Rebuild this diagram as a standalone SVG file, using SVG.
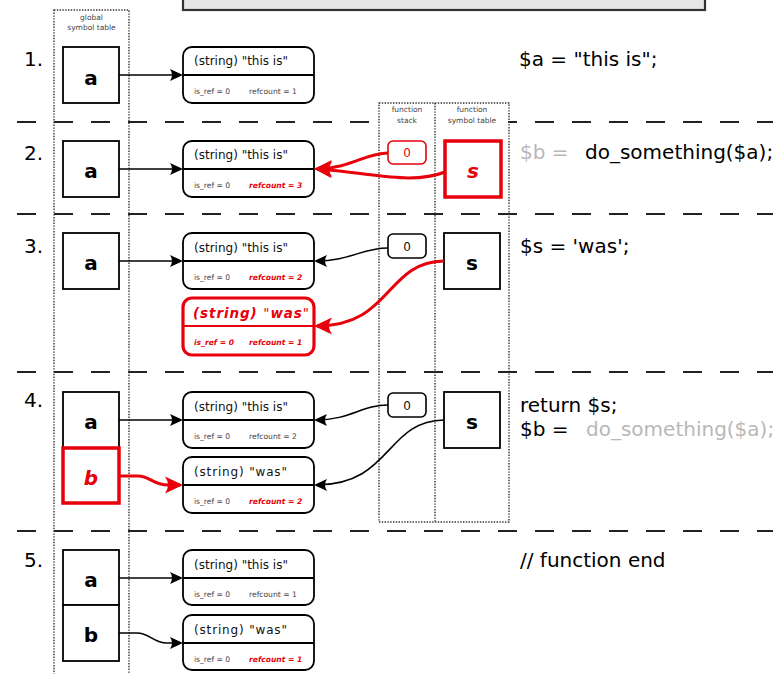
<svg xmlns="http://www.w3.org/2000/svg" width="773" height="674" viewBox="0 0 773 674">
  <style>
    text { font-family: "DejaVu Sans", "Liberation Sans", sans-serif; }
    .sep { stroke: #222; stroke-width: 2.2; stroke-dasharray: 19 18; fill: none; }
    .dot { fill: none; stroke: #333; stroke-width: 1.4; stroke-dasharray: 1.4 1.4; }
    .var { fill: #fff; stroke: #000; stroke-width: 1.8; }
    .varR { fill: #fff; stroke: #e8000b; stroke-width: 3.5; }
    .val { fill: #fff; stroke: #000; stroke-width: 1.8; }
    .valR { fill: #fff; stroke: #e8000b; stroke-width: 3.2; }
    .div { stroke: #000; stroke-width: 1.8; }
    .divR { stroke: #e8000b; stroke-width: 2; }
    .num { fill: #fff; stroke: #000; stroke-width: 1.6; }
    .numR { fill: #fff; stroke: #e8000b; stroke-width: 1.6; }
    .lbl { font-size: 7.5px; fill: #444; text-anchor: middle; }
    .step { font-size: 20px; fill: #000; }
    .name { font-size: 20px; font-weight: bold; fill: #000; text-anchor: middle; }
    .nameR { font-size: 20px; font-weight: bold; font-style: italic; fill: #e8000b; text-anchor: middle; }
    .vt { font-size: 12px; fill: #111; }
    .meta { font-size: 7.6px; fill: #444; }
    .metaR { font-size: 7.6px; fill: #e8000b; font-weight: bold; font-style: italic; }
    .zero { font-size: 12px; fill: #111; text-anchor: middle; }
    .code { font-size: 20px; fill: #000; }
    .dim { fill: #b8b8b8; }
    .ln { fill: none; stroke: #000; stroke-width: 1.5; }
    .lnR { fill: none; stroke: #e8000b; stroke-width: 3; }
  </style>
  <defs>
    <marker id="arr" viewBox="-12 -7 15 14" markerWidth="15" markerHeight="14" refX="0" refY="0" orient="auto" markerUnits="userSpaceOnUse">
      <path d="M2,0 L-11,-6 Q-7,0 -11,6 Z" fill="#000"/>
    </marker>
    <marker id="arrR" viewBox="-17 -10 21 20" markerWidth="21" markerHeight="20" refX="0" refY="0" orient="auto" markerUnits="userSpaceOnUse">
      <path d="M3,0 L-15,-8.5 Q-9,0 -15,8.5 Z" fill="#e8000b"/>
    </marker>
  </defs>

  <rect width="773" height="674" fill="#fff"/>

  <!-- header panel, cut off at the top edge -->
  <rect x="183" y="-12" width="522" height="22" fill="#e6e6e6" stroke="#333" stroke-width="2.2"/>

  <!-- step separators -->
  <g id="separators">
    <line class="sep" x1="17" y1="122" x2="773" y2="122"/>
    <line class="sep" x1="17" y1="214" x2="773" y2="214"/>
    <line class="sep" x1="17" y1="372" x2="773" y2="372"/>
    <line class="sep" x1="17" y1="531" x2="773" y2="531"/>
  </g>

  <!-- symbol table frames -->
  <g id="global-table">
    <rect class="dot" x="54" y="10" width="75" height="690"/>
    <text class="lbl" x="91.5" y="20">global</text>
    <text class="lbl" x="91.5" y="30">symbol table</text>
  </g>
  <g id="function-tables">
    <rect x="380" y="104" width="128" height="22" fill="#fff"/>
    <rect class="dot" x="379" y="103" width="130" height="419"/>
    <line class="dot" x1="435" y1="103" x2="435" y2="522"/>
    <text class="lbl" x="407" y="112">function</text>
    <text class="lbl" x="407" y="123">stack</text>
    <text class="lbl" x="472" y="112">function</text>
    <text class="lbl" x="472" y="123">symbol table</text>
  </g>

  <!-- step numbers and code lines -->
  <g id="steps">
    <text class="step" x="24" y="66">1.</text>
    <text class="step" x="24" y="160">2.</text>
    <text class="step" x="24" y="253">3.</text>
    <text class="step" x="24" y="407">4.</text>
    <text class="step" x="24" y="567">5.</text>
  </g>
  <g id="code">
    <text class="code" x="519" y="66">$a = "this is";</text>
    <text class="code" x="520" y="159"><tspan class="dim">$b =</tspan><tspan x="585">do_something($a);</tspan></text>
    <text class="code" x="520" y="253">$s = 'was';</text>
    <text class="code" x="520" y="412">return $s;</text>
    <text class="code" x="520" y="436">$b =<tspan x="586" class="dim">do_something($a);</tspan></text>
    <text class="code" x="520" y="567">// function end</text>
  </g>

  <!-- step 1 -->
  <g id="s1-a">
    <rect class="var" x="63" y="47" width="56" height="56"/>
    <text class="name" x="91" y="85">a</text>
  </g>
  <g id="s1-this">
    <rect class="val" x="183" y="47" width="131" height="56" rx="9"/>
    <line class="div" x1="183" y1="75" x2="314" y2="75"/>
    <text class="vt" x="194" y="65">(string) "this is"</text>
    <text class="meta" x="194" y="94">is_ref = 0</text>
    <text class="meta" x="249" y="94">refcount = 1</text>
  </g>

  <!-- step 2 -->
  <g id="s2-a">
    <rect class="var" x="63" y="141" width="56" height="56"/>
    <text class="name" x="91" y="178">a</text>
  </g>
  <g id="s2-this">
    <rect class="val" x="183" y="141" width="131" height="56" rx="9"/>
    <line class="div" x1="183" y1="169" x2="314" y2="169"/>
    <text class="vt" x="194" y="159">(string) "this is"</text>
    <text class="meta" x="194" y="188">is_ref = 0</text>
    <text class="metaR" x="249" y="188">refcount = 3</text>
  </g>
  <g id="s2-stack">
    <rect class="numR" x="388" y="141" width="38" height="23" rx="5"/>
    <text class="zero" x="407" y="157" style="fill:#e8000b">0</text>
  </g>
  <g id="s2-s">
    <rect class="varR" x="445" y="141" width="56" height="56"/>
    <text class="nameR" x="473" y="178">s</text>
  </g>

  <!-- step 3 -->
  <g id="s3-a">
    <rect class="var" x="63" y="233" width="56" height="56"/>
    <text class="name" x="91" y="270">a</text>
  </g>
  <g id="s3-this">
    <rect class="val" x="183" y="233" width="131" height="56" rx="9"/>
    <line class="div" x1="183" y1="261" x2="314" y2="261"/>
    <text class="vt" x="194" y="252">(string) "this is"</text>
    <text class="meta" x="194" y="280">is_ref = 0</text>
    <text class="metaR" x="249" y="280">refcount = 2</text>
  </g>
  <g id="s3-was">
    <rect class="valR" x="183" y="298" width="131" height="57" rx="9"/>
    <line class="divR" x1="183" y1="326" x2="314" y2="326"/>
    <text x="193" y="318" font-size="13.5" fill="#e8000b" textLength="116"><tspan font-weight="bold" font-style="italic">(string) </tspan><tspan>"</tspan><tspan font-weight="bold" font-style="italic">was</tspan><tspan>"</tspan></text>
    <text class="metaR" x="194" y="345">is_ref = 0</text>
    <text class="metaR" x="249" y="345">refcount = 1</text>
  </g>
  <g id="s3-stack">
    <rect class="num" x="388" y="234" width="38" height="24" rx="5"/>
    <text class="zero" x="407" y="251">0</text>
  </g>
  <g id="s3-s">
    <rect class="var" x="444" y="233" width="56" height="56"/>
    <text class="name" x="472" y="270">s</text>
  </g>

  <!-- step 4 -->
  <g id="s4-a">
    <rect class="var" x="63" y="392" width="56" height="56"/>
    <text class="name" x="91" y="429">a</text>
  </g>
  <g id="s4-b">
    <rect class="varR" x="63" y="448" width="56" height="55"/>
    <text class="nameR" x="91" y="485">b</text>
  </g>
  <g id="s4-this">
    <rect class="val" x="183" y="392" width="131" height="56" rx="9"/>
    <line class="div" x1="183" y1="420" x2="314" y2="420"/>
    <text class="vt" x="194" y="411">(string) "this is"</text>
    <text class="meta" x="194" y="439">is_ref = 0</text>
    <text class="meta" x="249" y="439">refcount = 2</text>
  </g>
  <g id="s4-was">
    <rect class="val" x="183" y="457" width="131" height="56" rx="9"/>
    <line class="div" x1="183" y1="485" x2="314" y2="485"/>
    <text class="vt" x="194" y="476" textLength="93">(string) "was"</text>
    <text class="meta" x="194" y="504">is_ref = 0</text>
    <text class="metaR" x="249" y="504">refcount = 2</text>
  </g>
  <g id="s4-stack">
    <rect class="num" x="388" y="393" width="38" height="24" rx="5"/>
    <text class="zero" x="407" y="410">0</text>
  </g>
  <g id="s4-s">
    <rect class="var" x="444" y="392" width="56" height="56"/>
    <text class="name" x="472" y="429">s</text>
  </g>

  <!-- step 5 -->
  <g id="s5-a">
    <rect class="var" x="63" y="550" width="56" height="55"/>
    <text class="name" x="91" y="587">a</text>
  </g>
  <g id="s5-b">
    <rect class="var" x="63" y="605" width="56" height="56"/>
    <text class="name" x="91" y="642">b</text>
  </g>
  <g id="s5-this">
    <rect class="val" x="183" y="550" width="131" height="55" rx="9"/>
    <line class="div" x1="183" y1="578" x2="314" y2="578"/>
    <text class="vt" x="194" y="569">(string) "this is"</text>
    <text class="meta" x="194" y="597">is_ref = 0</text>
    <text class="meta" x="249" y="597">refcount = 1</text>
  </g>
  <g id="s5-was">
    <rect class="val" x="183" y="615" width="131" height="55" rx="9"/>
    <line class="div" x1="183" y1="643" x2="314" y2="643"/>
    <text class="vt" x="194" y="634" textLength="93">(string) "was"</text>
    <text class="meta" x="194" y="662">is_ref = 0</text>
    <text class="metaR" x="249" y="662">refcount = 1</text>
  </g>

  <!-- references between symbols and values -->
  <g id="connectors">
    <path class="ln" d="M119,75 H181" marker-end="url(#arr)"/>
    <path class="ln" d="M119,169 H181" marker-end="url(#arr)"/>
    <path class="lnR" d="M388,153 C365,153 352,168 317,169" marker-end="url(#arrR)"/>
    <path class="lnR" d="M445,172 C410,186 360,171 317,169" marker-end="url(#arrR)"/>
    <path class="ln" d="M119,261 H181" marker-end="url(#arr)"/>
    <path class="ln" d="M388,248 C362,248 350,261 316,261" marker-end="url(#arr)"/>
    <path class="lnR" d="M444,261 C385,262 392,326 317,326" marker-end="url(#arrR)"/>
    <path class="ln" d="M119,420 H181" marker-end="url(#arr)"/>
    <path class="lnR" d="M119,476 L138,476 C150,476 153,485 168,485 L180,485" marker-end="url(#arrR)"/>
    <path class="ln" d="M388,405 C362,405 350,420 316,420" marker-end="url(#arr)"/>
    <path class="ln" d="M444,420 C385,421 392,485 316,485" marker-end="url(#arr)"/>
    <path class="ln" d="M119,578 H181" marker-end="url(#arr)"/>
    <path class="ln" d="M119,633 L137,633 C150,633 153,643 167,643 L181,643" marker-end="url(#arr)"/>
  </g>
</svg>
